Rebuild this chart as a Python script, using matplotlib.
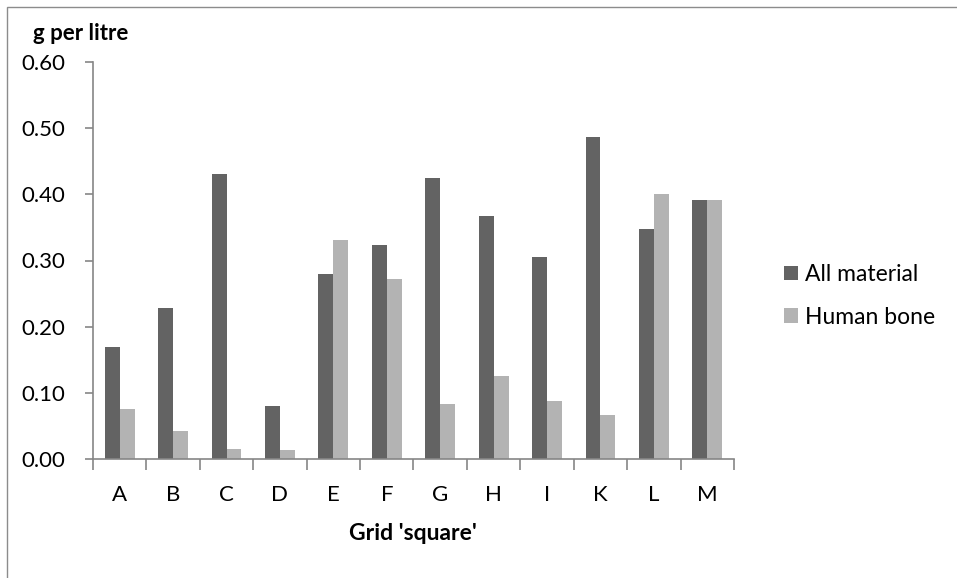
import numpy as np
import matplotlib
matplotlib.use('Agg')
import matplotlib.pyplot as plt
from matplotlib.patches import Rectangle

# data
squares = ['A', 'B', 'C', 'D', 'E', 'F', 'G', 'H', 'I', 'K', 'L', 'M']
all_material = [0.170, 0.228, 0.431, 0.080, 0.279, 0.323, 0.425, 0.368, 0.306, 0.486, 0.347, 0.391]
human_bone = [0.075, 0.042, 0.015, 0.013, 0.331, 0.272, 0.083, 0.125, 0.087, 0.067, 0.400, 0.391]
y_ticks = [0.0, 0.1, 0.2, 0.3, 0.4, 0.5, 0.6]

plt.rcParams['font.family'] = ['Lato', 'DejaVu Sans']

W, H, dpi = 957, 578, 100
fig = plt.figure(figsize=(W / dpi, H / dpi), dpi=dpi)
ax = fig.add_axes([93 / W, 1 - 459 / H, (734 - 93) / W, (459 - 62) / H])

x = np.arange(len(squares))
bw = 0.28
ax.bar(x - bw / 2, all_material, bw, color='#636363', label='All material')
ax.bar(x + bw / 2, human_bone, bw, color='#b3b3b3', label='Human bone')

ax.set_xlim(-0.5, len(squares) - 0.5)
ax.set_ylim(0, 0.6)
ax.set_yticks(y_ticks)
ax.set_yticklabels([f'{v:.2f}' for v in y_ticks])
ax.set_xticks(x)
ax.set_xticklabels(squares)
ax.set_xticks(np.arange(len(squares) + 1) - 0.5, minor=True)
ax.tick_params(axis='x', which='major', length=0, pad=19, labelsize=16)
ax.tick_params(axis='x', which='minor', length=8, width=1.2, color='#868686', direction='out')
ax.tick_params(axis='y', length=6, width=1.2, color='#868686', pad=14, labelsize=16)

for side in ['top', 'right']:
    ax.spines[side].set_visible(False)
for side in ['left', 'bottom']:
    ax.spines[side].set_color('#868686')
    ax.spines[side].set_linewidth(1.2)

fig.text(33 / W, 1 - 34 / H, 'g per litre', fontsize=16, fontweight='bold', ha='left', va='center')
fig.text(413 / W, 1 - 533 / H, "Grid 'square'", fontsize=16.5, fontweight='bold', ha='center', va='center')

leg = ax.legend(loc='center left', bbox_to_anchor=(763 / W, 1 - 296 / H), bbox_transform=fig.transFigure,
                frameon=False, fontsize=16.5, handlelength=0.62, handleheight=0.62, handletextpad=0.3,
                labelspacing=0.95)

# outer chart border (left and top visible in reference)
fig.patches.append(Rectangle((7 / W, -0.1), 1.2, 1 - 7 / H + 0.1, transform=fig.transFigure,
                             fill=False, edgecolor='#8c8c8c', linewidth=1.0))

fig.savefig('out.png', dpi=dpi)
